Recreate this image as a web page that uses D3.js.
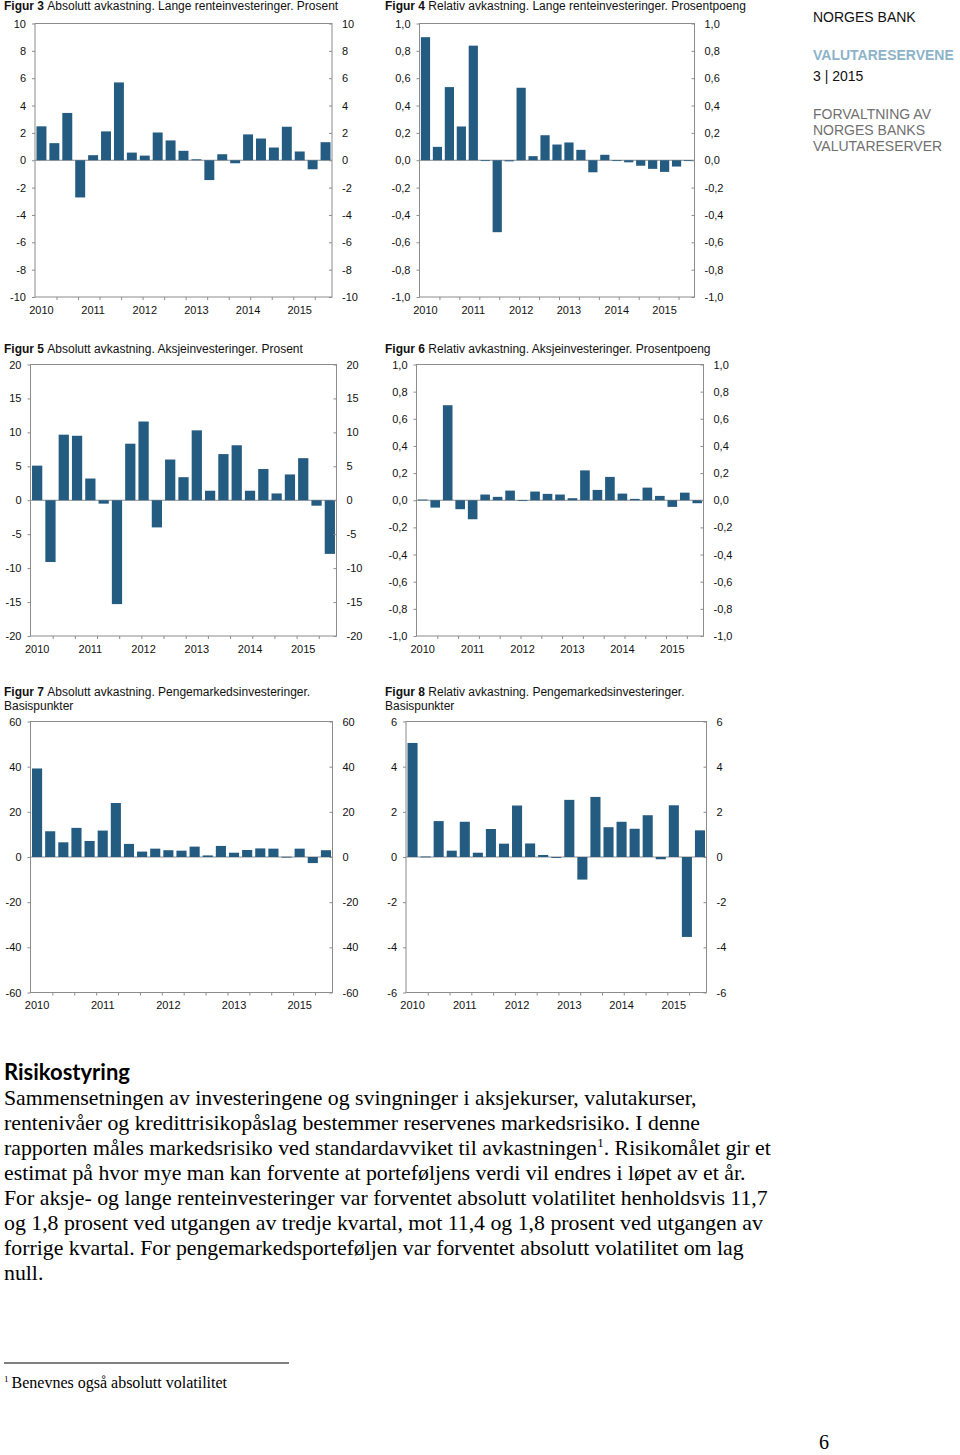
<!DOCTYPE html>
<html>
<head>
<meta charset="utf-8">
<script src="https://cdn.jsdelivr.net/npm/d3@7"></script>
<style>
  html, body { margin: 0; padding: 0; background: #fff; }
  svg { display: block; font-family: "Liberation Sans", Arial, sans-serif; }
</style>
</head>
<body>
<svg id="page" width="960" height="1455"></svg>
<script>
// ---------- DATA ----------
const categories = [
  "2010K1","2010K2","2010K3","2010K4",
  "2011K1","2011K2","2011K3","2011K4",
  "2012K1","2012K2","2012K3","2012K4",
  "2013K1","2013K2","2013K3","2013K4",
  "2014K1","2014K2","2014K3","2014K4",
  "2015K1","2015K2","2015K3"
];

const fig3Values = [2.48,1.25,3.46,-2.72,0.37,2.11,5.69,0.56,0.34,2.03,1.45,0.69,0.07,-1.45,0.44,-0.22,1.89,1.59,0.93,2.45,0.64,-0.66,1.32];
const fig4Values = [0.90,0.098,0.535,0.247,0.838,-0.005,-0.526,-0.008,0.53,0.03,0.183,0.115,0.13,0.076,-0.088,0.04,-0.003,-0.015,-0.04,-0.063,-0.085,-0.046,-0.002];
const fig5Values = [5.1,-9.1,9.66,9.5,3.2,-0.5,-15.3,8.33,11.6,-4.0,6.0,3.4,10.3,1.4,6.8,8.1,1.4,4.6,1.0,3.8,6.2,-0.8,-7.9];
const fig6Values = [0.005,-0.054,0.70,-0.066,-0.14,0.042,0.025,0.071,0.0,0.064,0.047,0.042,0.015,0.22,0.076,0.172,0.049,0.01,0.093,0.032,-0.049,0.056,-0.022];
const fig7Values = [39.2,11.4,6.5,12.9,7.1,11.7,23.9,5.8,2.4,3.7,3.0,2.8,4.6,0.7,4.9,1.9,3.1,3.8,3.7,0.1,3.7,-2.7,3.0];
const fig8Values = [5.05,0.02,1.59,0.28,1.56,0.19,1.24,0.59,2.28,0.6,0.09,-0.04,2.53,-1.0,2.66,1.32,1.56,1.25,1.85,-0.1,2.29,-3.54,1.18];

const ticksPct10 = [-10,-8,-6,-4,-2,0,2,4,6,8,10];
const ticksPp1   = [-1,-0.8,-0.6,-0.4,-0.2,0,0.2,0.4,0.6,0.8,1];
const ticksPct20 = [-20,-15,-10,-5,0,5,10,15,20];
const ticksBp60  = [-60,-40,-20,0,20,40,60];
const ticksBp6   = [-6,-4,-2,0,2,4,6];

const yearLabels   = ["2010","2011","2012","2013","2014","2015"];
const yearLabelAt  = ["2010K1","2011K1","2012K1","2013K1","2014K1","2015K1"];
const fig7YearLabels  = ["2010","2011","2012","2013","2015"];
const fig7YearLabelAt = ["2010K1","2011K2","2012K3","2013K4","2015K1"];
const monthTicks = [5,10,15,20,25,30,35,40,45,50,55,60,65]; // months since start (69 months span)

const bodyLines = [
  "Sammensetningen av investeringene og svingninger i aksjekurser, valutakurser,",
  "rentenivåer og kredittrisikopåslag bestemmer reservenes markedsrisiko. I denne",
  ["rapporten måles markedsrisiko ved standardavviket til avkastningen", "1", ". Risikomålet gir et"],
  "estimat på hvor mye man kan forvente at porteføljens verdi vil endres i løpet av et år.",
  "For aksje- og lange renteinvesteringer var forventet absolutt volatilitet henholdsvis 11,7",
  "og 1,8 prosent ved utgangen av tredje kvartal, mot 11,4 og 1,8 prosent ved utgangen av",
  "forrige kvartal. For pengemarkedsporteføljen var forventet absolutt volatilitet om lag",
  "null."
];

// ---------- RENDER ----------
const svg = d3.select("#page");
svg.append("rect").attr("width",960).attr("height",1455).attr("fill","#fff");

const BAR = "#245b80";
const FRAME = "#8c8c8c";
const SERIF = "'Liberation Serif', 'Times New Roman', serif";
const SANS = "'Liberation Sans', Arial, sans-serif";
const loc = d3.formatLocale({decimal: ",", thousands: " ", grouping: [3], currency: ["", ""], minus: "-"});
const fmtInt = loc.format("d");
const fmt1 = loc.format(".1f");

function drawChart(cfg) {
  const g = svg.append("g").style("font-family", SANS);
  cfg.title.forEach((line, i) => {
    const t = g.append("text").attr("x", cfg.tx).attr("y", cfg.ty + i * 14)
      .style("font-size", "12px").attr("fill", "#111");
    if (i === 0) {
      t.append("tspan").style("font-weight", "bold").text(cfg.fig + " ");
    }
    t.append("tspan").text(line);
  });

  const x = d3.scaleBand().domain(categories).range([cfg.x0, cfg.x1])
    .paddingInner(0.23).paddingOuter(0.115);
  const y = d3.scaleLinear().domain([cfg.ticks[0], cfg.ticks[cfg.ticks.length - 1]]).range([cfg.y1, cfg.y0]);
  const m = d3.scaleLinear().domain([0, 69]).range([cfg.x0, cfg.x1]);

  g.append("line").attr("x1", cfg.x0).attr("x2", cfg.x1)
    .attr("y1", y(0)).attr("y2", y(0)).attr("stroke", FRAME).attr("stroke-width", 1);

  g.selectAll("rect.bar").data(cfg.values.map((v, i) => ({c: categories[i], v})))
    .enter().append("rect").attr("class", "bar")
    .attr("x", d => x(d.c))
    .attr("width", x.bandwidth())
    .attr("y", d => Math.min(y(d.v), y(0)))
    .attr("height", d => Math.max(0.8, Math.abs(y(d.v) - y(0))))
    .attr("fill", BAR);

  g.append("rect").attr("x", cfg.x0).attr("y", cfg.y0)
    .attr("width", cfg.x1 - cfg.x0).attr("height", cfg.y1 - cfg.y0)
    .attr("fill", "none").attr("stroke", FRAME).attr("stroke-width", 1);

  const fmt = cfg.dec ? fmt1 : fmtInt;
  const left = d3.axisLeft(y).tickValues(cfg.ticks).tickSize(3).tickPadding(6).tickFormat(fmt);
  const right = d3.axisRight(y).tickValues(cfg.ticks).tickSize(-3).tickPadding(10).tickFormat(fmt);
  const styleAxis = sel => {
    sel.attr("font-family", null).attr("font-size", null);
    sel.select(".domain").remove();
    sel.selectAll(".tick line").attr("stroke", FRAME);
    sel.selectAll(".tick text").style("font-size", "11px").attr("fill", "#111")
      .style("font-family", SANS);
  };
  g.append("g").attr("transform", `translate(${cfg.x0},0)`).call(left).call(styleAxis);
  g.append("g").attr("transform", `translate(${cfg.x1},0)`).call(right).call(styleAxis);

  g.append("g").attr("transform", `translate(0,${cfg.y1})`)
    .call(d3.axisBottom(m).tickValues(monthTicks).tickSize(3).tickFormat(""))
    .call(styleAxis);

  const labMap = new Map(cfg.labelAt.map((c, i) => [c, cfg.labels[i]]));
  g.append("g").attr("transform", `translate(0,${cfg.y1})`)
    .call(d3.axisBottom(x).tickValues(cfg.labelAt).tickSize(0).tickPadding(9)
      .tickFormat(c => labMap.get(c)))
    .call(styleAxis);
}

const charts = [
  {fig: "Figur 3", title: ["Absolutt avkastning. Lange renteinvesteringer. Prosent"], tx: 4, ty: 10,
   x0: 35, x1: 332, y0: 23.5, y1: 297, ticks: ticksPct10, values: fig3Values, dec: false,
   labels: yearLabels, labelAt: yearLabelAt},
  {fig: "Figur 4", title: ["Relativ avkastning. Lange renteinvesteringer. Prosentpoeng"], tx: 385, ty: 10,
   x0: 419.5, x1: 694.5, y0: 23.5, y1: 297, ticks: ticksPp1, values: fig4Values, dec: true,
   labels: yearLabels, labelAt: yearLabelAt},
  {fig: "Figur 5", title: ["Absolutt avkastning. Aksjeinvesteringer. Prosent"], tx: 4, ty: 353,
   x0: 30.5, x1: 336.5, y0: 364.5, y1: 636, ticks: ticksPct20, values: fig5Values, dec: false,
   labels: yearLabels, labelAt: yearLabelAt},
  {fig: "Figur 6", title: ["Relativ avkastning. Aksjeinvesteringer. Prosentpoeng"], tx: 385, ty: 353,
   x0: 416.5, x1: 703.5, y0: 364.5, y1: 636, ticks: ticksPp1, values: fig6Values, dec: true,
   labels: yearLabels, labelAt: yearLabelAt},
  {fig: "Figur 7", title: ["Absolutt avkastning. Pengemarkedsinvesteringer.", "Basispunkter"], tx: 4, ty: 696,
   x0: 30.5, x1: 332.5, y0: 721.5, y1: 992.5, ticks: ticksBp60, values: fig7Values, dec: false,
   labels: fig7YearLabels, labelAt: fig7YearLabelAt},
  {fig: "Figur 8", title: ["Relativ avkastning. Pengemarkedsinvesteringer.", "Basispunkter"], tx: 385, ty: 696,
   x0: 406, x1: 706.5, y0: 721.5, y1: 992.5, ticks: ticksBp6, values: fig8Values, dec: false,
   labels: yearLabels, labelAt: yearLabelAt}
];
charts.forEach(drawChart);

// ---------- HEADER (right) ----------
const hdr = svg.append("g").style("font-family", SANS).style("font-size", "14px");
hdr.append("text").attr("x", 813).attr("y", 22).attr("fill", "#111").text("NORGES BANK");
hdr.append("text").attr("x", 813).attr("y", 60).attr("fill", "#8db3c9").style("font-weight", "bold").text("VALUTARESERVENE");
hdr.append("text").attr("x", 813).attr("y", 81).attr("fill", "#111").text("3 | 2015");
["FORVALTNING AV", "NORGES BANKS", "VALUTARESERVER"].forEach((s, i) =>
  hdr.append("text").attr("x", 813).attr("y", 119 + i * 16).attr("fill", "#707070").text(s));

// ---------- BODY TEXT ----------
svg.append("text").attr("x", 4).attr("y", 1080)
  .style("font-family", "Lato, 'Open Sans', sans-serif").style("font-weight", "bold")
  .style("font-size", "22px").attr("fill", "#000").text("Risikostyring");

const body = svg.append("g").style("font-family", SERIF).style("font-size", "21.8px").attr("fill", "#000");
bodyLines.forEach((ln, i) => {
  const t = body.append("text").attr("x", 4).attr("y", 1105 + i * 25);
  if (Array.isArray(ln)) {
    t.append("tspan").text(ln[0]);
    t.append("tspan").style("font-size", "13px").attr("dy", -8).text(ln[1]);
    t.append("tspan").attr("dy", 8).text(ln[2]);
  } else {
    t.text(ln);
  }
});

// footnote
svg.append("line").attr("x1", 4).attr("x2", 289).attr("y1", 1363).attr("y2", 1363)
  .attr("stroke", "#000").attr("stroke-width", 1);
const fn = svg.append("text").attr("x", 4).attr("y", 1388)
  .style("font-family", SERIF).style("font-size", "16px").attr("fill", "#000");
fn.append("tspan").style("font-size", "9px").attr("dy", -6).text("1");
fn.append("tspan").attr("dx", 3).attr("dy", 6).text("Benevnes også absolutt volatilitet");

svg.append("text").attr("x", 819).attr("y", 1449)
  .style("font-family", SERIF).style("font-size", "20px")
  .attr("fill", "#000").text("6");
</script>
</body>
</html>
